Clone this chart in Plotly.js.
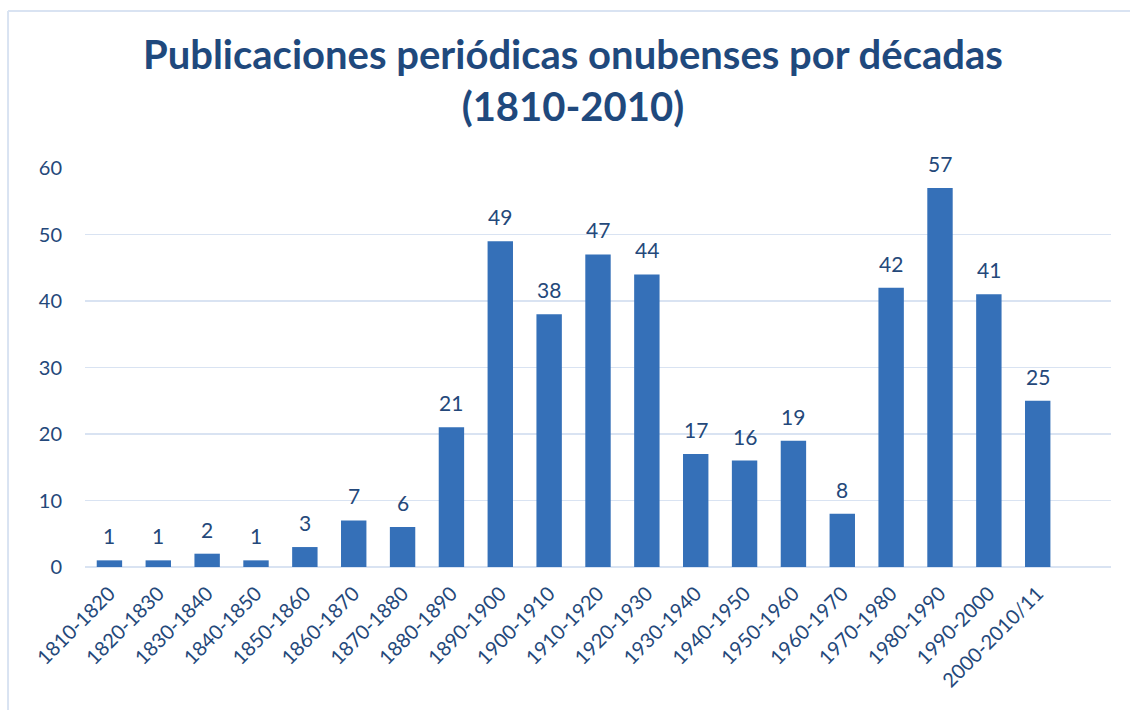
<!DOCTYPE html>
<html>
<head>
<meta charset="utf-8">
<script src="https://cdn.plot.ly/plotly-3.0.1.min.js"></script>
<style>html,body{margin:0;padding:0;background:#fff;}#chart{width:1130px;height:710px;}</style>
</head>
<body>
<div id="chart"></div>
<script>
const categories = ["1810-1820","1820-1830","1830-1840","1840-1850","1850-1860","1860-1870","1870-1880","1880-1890","1890-1900","1900-1910","1910-1920","1920-1930","1930-1940","1940-1950","1950-1960","1960-1970","1970-1980","1980-1990","1990-2000","2000-2010/11"];
const publications = [1,1,2,1,3,7,6,21,49,38,47,44,17,16,19,8,42,57,41,25];
const yTicks = [0,10,20,30,40,50,60];

const textColor = "#24487A";
const fontFam = "Lato, 'Open Sans', sans-serif";
const xs = categories.map((c, i) => i);

const trace = {
  type: "bar",
  x: xs,
  y: publications,
  marker: {color: "#3570B8", line: {width: 0}},
  width: 0.52,
  hoverinfo: "x+y"
};

const labelAnnotations = publications.map((v, i) => ({
  x: xs[i], y: v, xref: "x", yref: "y",
  text: String(v), showarrow: false,
  yanchor: "bottom", xanchor: "center", yshift: 10,
  font: {family: fontFam, size: 21, color: textColor}
}));

const layout = {
  width: 1130, height: 710,
  margin: {l: 85, r: 19, t: 168, b: 143},
  paper_bgcolor: "#ffffff",
  plot_bgcolor: "#ffffff",
  showlegend: false,
  title: {
    text: "<b>Publicaciones periódicas onubenses por décadas<br>(1810-2010)</b>",
    font: {family: fontFam, size: 40, color: "#1F497D"},
    x: 0.507, xanchor: "center", xref: "container", y: 0.903, yanchor: "middle"
  },
  xaxis: {
    range: [-0.5, 20.5],
    tickmode: "array",
    tickvals: xs,
    ticktext: categories,
    tickangle: -45,
    tickfont: {family: fontFam, size: 20, color: textColor},
    ticklabelstandoff: 10,
    showgrid: false, zeroline: false, showline: false, ticks: "",
    fixedrange: true
  },
  yaxis: {
    range: [0, 60],
    tickmode: "array",
    tickvals: yTicks,
    ticktext: yTicks.map(String),
    tickfont: {family: fontFam, size: 20, color: textColor},
    showgrid: true, gridcolor: "#D9E3F2", gridwidth: 1.5,
    zeroline: true, zerolinecolor: "#D9E3F2", zerolinewidth: 1.5,
    showline: false, ticks: "", ticklen: 0,
    ticklabelstandoff: 22,
    fixedrange: true
  },
  annotations: labelAnnotations,
  shapes: [
    {type: "line", xref: "paper", yref: "paper", x0: -0.075, x1: 1.1, y0: 1.3935, y1: 1.3935,
     line: {color: "#D9E3F2", width: 2}, layer: "below"},
    {type: "line", xref: "paper", yref: "paper", x0: -0.075, x1: -0.075, y0: -0.5, y1: 1.3935,
     line: {color: "#D9E3F2", width: 2}, layer: "below"}
  ]
};

Plotly.newPlot("chart", [trace], layout, {displayModeBar: false, staticPlot: true});
</script>
</body>
</html>
